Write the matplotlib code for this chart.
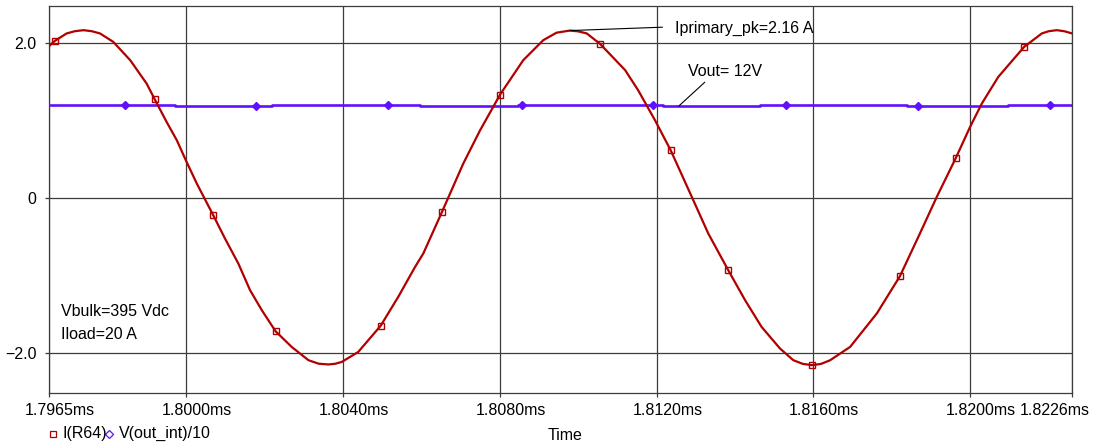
import matplotlib
matplotlib.use("Agg")
import matplotlib.pyplot as plt
from matplotlib.lines import Line2D
from matplotlib.ticker import FixedLocator, FixedFormatter
from matplotlib.transforms import ScaledTranslation

plt.rcParams['font.family'] = ['Liberation Sans', 'DejaVu Sans']
plt.rcParams['font.size'] = 11.5

# I(R64): primary current (A) vs time (ms)
t_i = [1.79650, 1.79665, 1.79695, 1.79716, 1.79738, 1.79759, 1.79780, 1.79814,
       1.79857, 1.79899, 1.79920, 1.79950, 1.79976, 1.79999, 1.80027, 1.80069,
       1.80099, 1.80133, 1.80163, 1.80193, 1.80228, 1.80269, 1.80312, 1.80338,
       1.80363, 1.80381, 1.80397, 1.80439, 1.80496, 1.80541, 1.80584, 1.80605,
       1.80652, 1.80707, 1.80750, 1.80801, 1.80860, 1.80911, 1.80945, 1.80979,
       1.81000, 1.81022, 1.81056, 1.81120, 1.81153, 1.81196, 1.81236, 1.81290,
       1.81332, 1.81382, 1.81426, 1.81468, 1.81515, 1.81549, 1.81573, 1.81597,
       1.81620, 1.81643, 1.81694, 1.81762, 1.81821, 1.81872, 1.81915, 1.81963,
       1.82000, 1.82030, 1.82072, 1.82138, 1.82183, 1.82201, 1.82221, 1.82240,
       1.82260]
i_r64 = [1.959, 2.027, 2.123, 2.152, 2.165, 2.152, 2.123, 2.014,
         1.779, 1.477, 1.271, 0.982, 0.746, 0.488, 0.187, -0.222,
         -0.523, -0.845, -1.190, -1.448, -1.719, -1.921, -2.093, -2.138,
         -2.148, -2.138, -2.115, -1.986, -1.650, -1.276, -0.889, -0.716,
         -0.187, 0.445, 0.875, 1.335, 1.778, 2.036, 2.133, 2.160,
         2.150, 2.123, 1.988, 1.649, 1.391, 1.004, 0.617, 0.014,
         -0.458, -0.923, -1.319, -1.663, -1.942, -2.093, -2.140, -2.157,
         -2.140, -2.093, -1.921, -1.490, -1.009, -0.458, 0.014, 0.510,
         0.917, 1.219, 1.563, 1.950, 2.123, 2.152, 2.165, 2.152,
         2.123]
# samples that carry a trace marker
i_mark_idx = [1, 10, 15, 20, 28, 32, 35, 42, 46, 49, 55, 60, 63, 67]

# V(out_int)/10: step breakpoints (ms) and level held from each breakpoint
t_v = [1.79650, 1.79971, 1.80219, 1.80597, 1.80847, 1.81217, 1.81464,
       1.81839, 1.82097, 1.82260]
v_out = [1.200, 1.187, 1.200, 1.187, 1.200, 1.187, 1.200, 1.187, 1.200, 1.200]
v_mark_t = [1.79844, 1.80178, 1.80516, 1.80856, 1.81192, 1.81530, 1.81868, 1.82204]
v_mark = [1.200, 1.187, 1.200, 1.200, 1.200, 1.200, 1.187, 1.200]

x_ticks = [1.7965, 1.8000, 1.8040, 1.8080, 1.8120, 1.8160, 1.8200, 1.8226]
x_tick_labels = ['%.4fms' % v for v in x_ticks]
y_ticks = [-2.0, 0.0, 2.0]
y_tick_labels = ['\u22122.0', '0', '2.0']

RED = '#b00000'
BLUE = '#6010ff'
GRID = '#3c3c3c'

W, H = 1095, 447
fig = plt.figure(figsize=(W / 100, H / 100), dpi=100)
ax = fig.add_axes([49 / W, 1 - 393 / H, 1023 / W, 387 / H])
ax.set_xlim(x_ticks[0], x_ticks[-1])
ax.set_ylim(-2.516, 2.477)

ax.xaxis.set_major_locator(FixedLocator(x_ticks))
ax.xaxis.set_major_formatter(FixedFormatter(x_tick_labels))
ax.yaxis.set_major_locator(FixedLocator(y_ticks))
ax.yaxis.set_major_formatter(FixedFormatter(y_tick_labels))
ax.tick_params(axis='x', length=3, width=0.9, color=GRID, pad=4)
ax.tick_params(axis='y', length=3, width=0.9, color=GRID, pad=6)
ax.grid(True, color=GRID, lw=0.9, zorder=0)
ax.set_axisbelow(True)
for s in ax.spines.values():
    s.set_color(GRID)
    s.set_linewidth(0.9)

# time labels: the number is centred on its tick, the unit trails to the right;
# the last label is pulled back inside the figure
labels = ax.get_xticklabels()
for lab in labels[:-1]:
    lab.set_transform(lab.get_transform() +
                      ScaledTranslation(11 / 100, 0, fig.dpi_scale_trans))
labels[-1].set_horizontalalignment('right')
labels[-1].set_transform(labels[-1].get_transform() +
                         ScaledTranslation(18 / 100, 0, fig.dpi_scale_trans))

# output voltage trace
ax.plot(t_v, v_out, drawstyle='steps-post', color=BLUE, lw=1.9, zorder=3)
ax.plot(v_mark_t, v_mark, ls='none', marker='D', ms=4.2, color=BLUE,
        mec=BLUE, zorder=3)

# primary current trace
ax.plot(t_i, i_r64, color=RED, lw=1.6, zorder=4, solid_joinstyle='round',
        marker='s', markevery=i_mark_idx, ms=5, mfc='none', mec=RED, mew=1.0)

# annotations: peak of the middle cycle
mid = [j for j in range(len(t_i)) if 1.806 < t_i[j] < 1.812]
k = max(mid, key=lambda j: i_r64[j])
ax.annotate('Iprimary_pk=%.2f A' % i_r64[k], xy=(t_i[k], i_r64[k]),
            xytext=(1.81247, 2.19), ha='left', va='center', zorder=5,
            arrowprops=dict(arrowstyle='-', lw=0.8, color='black',
                            patchA=None, shrinkA=9, shrinkB=0,
                            relpos=(0, 0.6)))
ax.annotate('Vout= 12V', xy=(1.81257, v_out[5]),
            xytext=(1.81280, 1.627), ha='left', va='center', zorder=5,
            arrowprops=dict(arrowstyle='-', lw=0.8, color='black',
                            patchA=None, shrinkA=3, shrinkB=0,
                            relpos=(0.27, 0)))

ax.text(12 / 1023, 0.210, 'Vbulk=395 Vdc', transform=ax.transAxes,
        ha='left', va='center')
ax.text(12 / 1023, 0.152, 'Iload=20 A', transform=ax.transAxes,
        ha='left', va='center')

# x label and trace legend under the axes
fig.text(565 / W, 1 - 435 / H, 'Time', ha='center', va='center')
ly = 1 - 433.5 / H
fig.add_artist(Line2D([52.5 / W], [ly], transform=fig.transFigure,
                      marker='s', ms=4, mfc='none', mec=RED, mew=0.9, ls='none'))
fig.text(62 / W, ly, 'I(R64)', ha='left', va='center')
fig.add_artist(Line2D([109 / W], [ly], transform=fig.transFigure,
                      marker='D', ms=3.6, mfc='none', mec=BLUE, mew=0.9, ls='none'))
fig.text(119 / W, ly, 'V(out_int)/10', ha='left', va='center')

fig.savefig('out.png', dpi=100)
